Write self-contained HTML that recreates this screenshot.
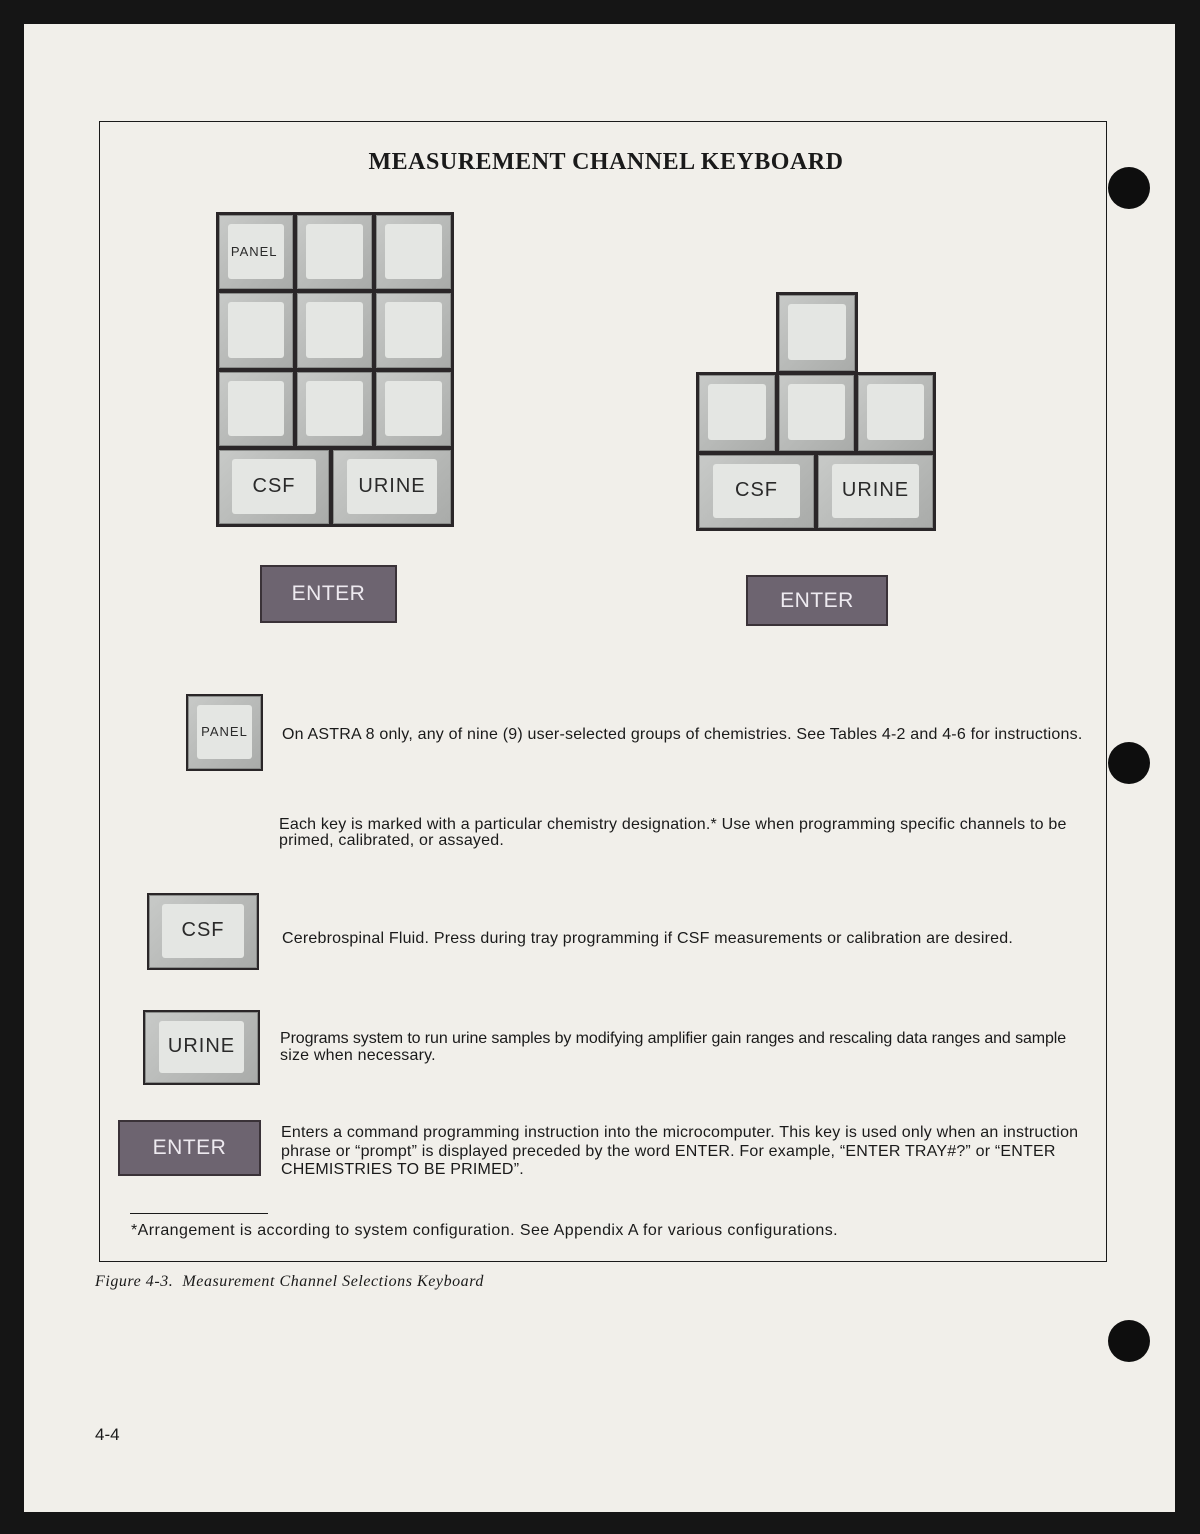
<!DOCTYPE html>
<html><head><meta charset="utf-8"><style>
*{margin:0;padding:0;box-sizing:border-box}
body{width:1200px;height:1534px;background:#151515;position:relative;overflow:hidden;font-family:"Liberation Sans",sans-serif;color:#1a1a1a}
.page{position:absolute;left:24px;top:24px;width:1151px;height:1488px;background:#f1efea}
.frame{position:absolute;left:99px;top:121px;width:1008px;height:1141px;border:1.5px solid #1a1a1a}
.a{position:absolute}
.blk{position:absolute;background:#2a2628}
.key{position:absolute;background:linear-gradient(135deg,#c8cac8,#a9aba9);border:2px solid #2a2628;box-shadow:inset 0 0 0 1px #8a8c8a}
.key .f{position:absolute;left:12%;right:12%;top:12%;bottom:14%;background:#e4e6e3;border-radius:3px;display:flex;align-items:center;justify-content:center;font-size:20px;color:#2a2a2a;letter-spacing:1px}
.ent{position:absolute;background:#6d6470;border:2px solid #3a3238;color:#eeeaf0;font-size:21px;display:flex;align-items:center;justify-content:center;letter-spacing:0.5px}
.t{position:absolute;font-size:16px;line-height:16px;white-space:nowrap;letter-spacing:0.2px}
.dot{position:absolute;width:42px;height:42px;border-radius:50%;background:#0e0e0e}
</style></head><body>
<div class="page"></div>
<div class="frame"></div>
<div class="dot" style="left:1108px;top:167px"></div>
<div class="dot" style="left:1108px;top:742px"></div>
<div class="dot" style="left:1108px;top:1320px"></div>
<div class="a" style="left:0;width:1212px;top:149px;text-align:center;font-family:'Liberation Serif',serif;font-weight:bold;font-size:24px;letter-spacing:0.5px">MEASUREMENT CHANNEL KEYBOARD</div>

<div class="blk" style="left:216px;top:212px;width:238px;height:315px"></div>
<div class="key" style="left:217px;top:213px;width:78px;height:78px"><div class="f" style="font-size:13px;justify-content:flex-start;padding-left:3px">PANEL</div></div>
<div class="key" style="left:295px;top:213px;width:79px;height:78px"><div class="f"></div></div>
<div class="key" style="left:374px;top:213px;width:79px;height:78px"><div class="f"></div></div>
<div class="key" style="left:217px;top:291px;width:78px;height:79px"><div class="f"></div></div>
<div class="key" style="left:295px;top:291px;width:79px;height:79px"><div class="f"></div></div>
<div class="key" style="left:374px;top:291px;width:79px;height:79px"><div class="f"></div></div>
<div class="key" style="left:217px;top:370px;width:78px;height:78px"><div class="f"></div></div>
<div class="key" style="left:295px;top:370px;width:79px;height:78px"><div class="f"></div></div>
<div class="key" style="left:374px;top:370px;width:79px;height:78px"><div class="f"></div></div>
<div class="key" style="left:217px;top:448px;width:114px;height:78px"><div class="f">CSF</div></div>
<div class="key" style="left:331px;top:448px;width:122px;height:78px"><div class="f">URINE</div></div>

<div class="blk" style="left:776px;top:292px;width:82px;height:82px"></div>
<div class="blk" style="left:696px;top:372px;width:240px;height:159px"></div>
<div class="key" style="left:777px;top:293px;width:80px;height:80px"><div class="f"></div></div>
<div class="key" style="left:697px;top:373px;width:80px;height:80px"><div class="f"></div></div>
<div class="key" style="left:777px;top:373px;width:79px;height:80px"><div class="f"></div></div>
<div class="key" style="left:856px;top:373px;width:79px;height:80px"><div class="f"></div></div>
<div class="key" style="left:697px;top:453px;width:119px;height:77px"><div class="f">CSF</div></div>
<div class="key" style="left:816px;top:453px;width:119px;height:77px"><div class="f">URINE</div></div>

<div class="ent" style="left:260px;top:565px;width:137px;height:58px">ENTER</div>
<div class="ent" style="left:746px;top:575px;width:142px;height:51px">ENTER</div>

<div class="key" style="left:186px;top:694px;width:77px;height:77px"><div class="f" style="font-size:13px">PANEL</div></div>
<div class="t" style="left:282px;top:727px">On ASTRA 8 only, any of nine (9) user-selected groups of chemistries. See Tables 4-2 and 4-6 for instructions.</div>
<div class="t" style="left:279px;top:817px">Each key is marked with a particular chemistry designation.* Use when programming specific channels to be</div>
<div class="t" style="left:279px;top:833px">primed, calibrated, or assayed.</div>
<div class="key" style="left:147px;top:893px;width:112px;height:77px"><div class="f">CSF</div></div>
<div class="t" style="left:282px;top:931px">Cerebrospinal Fluid. Press during tray programming if CSF measurements or calibration are desired.</div>
<div class="key" style="left:143px;top:1010px;width:117px;height:75px"><div class="f">URINE</div></div>
<div class="t" style="left:280px;top:1031px;letter-spacing:-0.1px">Programs system to run urine samples by modifying amplifier gain ranges and rescaling data ranges and sample</div>
<div class="t" style="left:280px;top:1048px">size when necessary.</div>
<div class="ent" style="left:118px;top:1120px;width:143px;height:56px">ENTER</div>
<div class="t" style="left:281px;top:1125px">Enters a command programming instruction into the microcomputer. This key is used only when an instruction</div>
<div class="t" style="left:281px;top:1144px">phrase or “prompt” is displayed preceded by the word ENTER. For example, “ENTER TRAY#?” or “ENTER</div>
<div class="t" style="left:281px;top:1162px">CHEMISTRIES TO BE PRIMED”.</div>
<div class="a" style="left:130px;top:1213px;width:138px;border-top:1px solid #1a1a1a"></div>
<div class="t" style="left:131px;top:1223px;letter-spacing:0.44px">*Arrangement is according to system configuration. See Appendix A for various configurations.</div>
<div class="a" style="left:95px;top:1273px;font-family:'Liberation Serif',serif;font-style:italic;font-size:16px;letter-spacing:0.55px">Figure 4-3.&nbsp; Measurement Channel Selections Keyboard</div>
<div class="a" style="left:95px;top:1425px;font-size:17px">4-4</div>
</body></html>
